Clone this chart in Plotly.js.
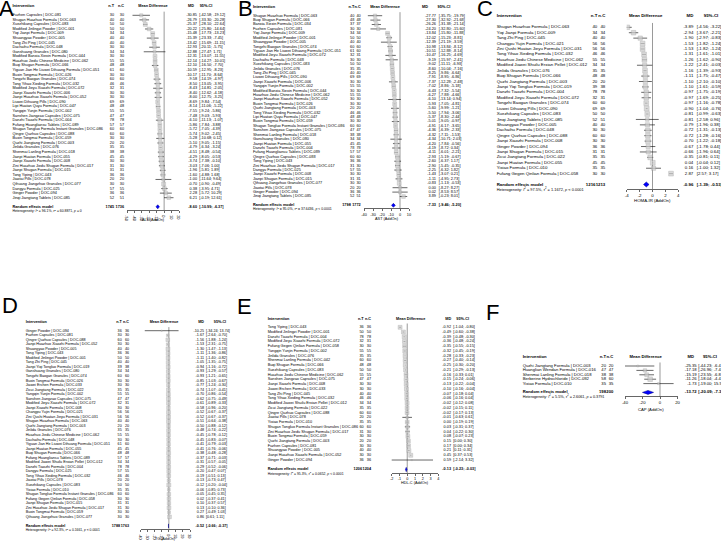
<!DOCTYPE html>
<html><head><meta charset="utf-8">
<script src="https://cdn.plot.ly/plotly-3.0.1.min.js"></script>
<style>html,body{margin:0;padding:0;background:#fff}#chart{width:721px;height:542px}</style>
</head><body><div id="chart"></div>
<script>
// ---------------- Panel A : ALT ----------------
const A_names = ['Fuzhen Capsules | DOC-081','Shugan Huazhuo Formula | DOC-063','Xuezhikang Capsules | DOC-083','Modified Jinlingzi Powder | DOC-001','Yiqi Jianpi Formula | DOC-009','Shuangyao Powder | DOC-005','Tang Zhi Ping | DOC-045','Dachaihu Formula | DOC-048','Ganshuang Granules | DOC-080','Modified Banxia Xiexin Formula | DOC-044','Huazhuo Jiedu Chinese Medicine | DOC-062','Buqi Shugan Formula | DOC-066','Yiguan Jian He Liuwei Dihuang Formula | DOC-051','Buxin Tongmai Formula | DOC-026','Tongzhi Baogan Granules | DOC-074','Tong Yihao Xieding Formula | DOC-032','Modified Jieyu Xiaozhi Formula | DOC-072','Jianpi Xiaozhi Formula | DOC-006','Jianpi Huazhuo Xiaozhi Formula | DOC-052','Liuwei Dihuang Pills | DOC-090','Lipi Huatan Quyu Formula | DOC-047','Yangqin Yunjin Formula | DOC-002','Sanshen Jiangzao Capsules | DOC-075','Danzhi Tiaozhi Formula | DOC-004','Fufang Huangliansu Tablets | DOC-089','Shugan Tongluo Formula Instant Granules | DOC-086','Qingre Quzhuo Capsules | DOC-088','Buxin Tongmai Formula | DOC-059','Quzhi Jiangtang Formula | DOC-003','Jinlida Granules | DOC-076','Shenmai Lanling Formula | DOC-018','Jianpi Huatan Formula | DOC-055','Jianpi Xiaozhi Formula | DOC-008','Zini Huazhuo Jiedu Shugan Formula | DOC-017','Jianpi Shugan Formula | DOC-015','Tong Yiping | DOC-043','Jiaotai Pills | DOC-078','Qihuang Jiangzhuo Granules | DOC-077','Dangyu Formula | DOC-025','Ginger Powder | DOC-094','Jinqi Jiangtang Tablets | DOC-085'];
const A_nT = [30,40,50,50,34,40,40,30,34,30,55,48,61,30,60,46,32,30,30,69,48,55,47,78,57,60,60,30,20,35,38,45,30,31,31,36,20,30,57,36,52];
const A_nC = [30,40,50,50,34,40,40,30,34,30,55,48,60,30,60,46,31,30,30,69,48,55,47,78,57,60,60,30,20,35,38,45,30,30,31,36,20,30,55,36,51];
const A_md = [-30.85,-26.79,-25.37,-20.22,-15.48,-15.39,-13.42,-12.93,-12.88,-12.31,-12.14,-12.10,-10.59,-10.17,-9.58,-8.50,-8.43,-8.40,-8.00,-8.69,-8.14,-7.55,-7.48,-6.10,-5.86,-5.72,-5.74,-5.28,-5.10,-4.79,-4.51,-4.29,-3.74,-3.03,-1.96,-1.60,-1.00,-0.70,0.38,2.28,6.21];
const A_lo = [-42.58,-33.30,-28.10,-25.80,-17.73,-23.33,-15.69,-20.11,-27.47,-13.07,-14.27,-16.50,-12.95,-11.70,-14.19,-13.05,-14.81,-12.62,-12.75,-9.84,-11.06,-9.24,-9.03,-11.13,-7.84,-7.05,-9.02,-10.68,-9.05,-6.34,-8.48,-8.05,-7.38,-7.06,-5.81,-4.88,-11.64,-0.90,-3.95,-5.72,-0.19];
const A_hi = [-19.12,-20.28,-22.64,-14.64,-13.23,-7.45,-11.15,-5.75,1.71,-11.55,-10.01,-7.70,-8.23,-8.64,-4.97,-3.95,-2.05,-4.18,-3.25,-7.54,-5.22,-5.86,-5.93,-1.07,-3.88,-4.39,-2.45,0.12,-1.15,-3.24,-0.54,-0.53,-0.10,1.00,1.89,1.68,9.64,-0.49,4.71,10.29,12.61];
const A_total = [1745,1736];
const A_pooled = [-8.60,-10.99,-6.37];
const A_het = ['96.1%','60.8871','= 0'];
const A_ticks = [-50,-40,-30,-20,-10,0,10,20];
const A_label = 'ALT (AddOn)';

// ---------------- Panel B : AST ----------------
const B_names = ['Shugan Huazhuo Formula | DOC-063','Buqi Shugan Formula | DOC-066','Banxia Xiexin Formula | DOC-034','Fuzhen Capsules | DOC-081','Yiqi Jianpi Formula | DOC-009','Modified Jinlingzi Powder | DOC-001','Shuangyao Powder | DOC-005','Tongzhi Baogan Granules | DOC-074','Yiguan Jian He Liuwei Dihuang Formula | DOC-051','Modified Jieyu Xiaozhi Formula | DOC-072','Dachaihu Formula | DOC-048','Xuezhikang Capsules | DOC-083','Jinlida Granules | DOC-076','Tang Zhi Ping | DOC-045','Liuwei Dihuang Pills | DOC-090','Jianpi Xiaozhi Formula | DOC-006','Yangqin Yunjin Formula | DOC-002','Modified Banxia Xiexin Formula | DOC-044','Huazhuo Jiedu Chinese Medicine | DOC-062','Jianpi Huazhuo Xiaozhi Formula | DOC-052','Buxin Tongmai Formula | DOC-026','Quzhi Jiangtang Formula | DOC-003','Tong Yihao Xieding Formula | DOC-032','Lipi Huatan Quyu Formula | DOC-047','Buxin Tongmai Formula | DOC-059','Shugan Tongluo Formula Instant Granules | DOC-086','Sanshen Jiangzao Capsules | DOC-075','Shenmai Lanling Formula | DOC-018','Ganshuang Granules | DOC-080','Jianpi Huatan Formula | DOC-055','Danzhi Tiaozhi Formula | DOC-004','Fufang Huangliansu Tablets | DOC-089','Qingre Quzhuo Capsules | DOC-088','Tong Yiping | DOC-043','Zini Huazhuo Jiedu Shugan Formula | DOC-017','Dangyu Formula | DOC-025','Jianpi Xiaozhi Formula | DOC-008','Jianpi Shugan Formula | DOC-015','Qihuang Jiangzhuo Granules | DOC-077','Jiaotai Pills | DOC-078','Ginger Powder | DOC-094','Jinqi Jiangtang Tablets | DOC-085'];
const B_nT = [40,48,37,30,34,50,40,60,61,32,30,50,35,40,69,30,55,30,55,30,30,20,46,48,30,60,47,38,34,45,78,57,60,36,31,57,30,31,30,20,36,52];
const B_nC = [40,48,37,30,34,50,40,60,60,31,30,50,35,40,69,30,55,30,55,30,30,20,46,48,30,60,47,38,34,45,78,57,60,36,30,55,30,31,30,20,36,51];
const B_md = [-27.77,-27.30,-26.26,-24.20,-13.84,-12.02,-12.39,-10.98,-10.51,-10.47,-9.19,-9.02,-8.60,-8.25,-7.91,-7.37,-7.02,-6.43,-6.27,-6.10,-5.93,-5.60,-5.50,-5.37,-5.01,-4.91,-4.36,-4.32,-4.34,-4.20,-4.19,-4.11,-2.93,-2.60,-2.90,-2.25,-1.43,-1.11,-0.83,0.00,0.02,3.89];
const B_lo = [-35.75,-32.92,-31.38,-32.80,-15.80,-15.23,-21.19,-13.84,-12.88,-16.25,-15.97,-11.11,-10.04,-9.86,-8.95,-12.28,-8.86,-7.32,-7.88,-13.14,-7.05,-9.99,-7.94,-8.30,-9.05,-6.17,-6.39,-7.11,-10.71,-7.84,-8.72,-6.01,-5.19,-6.37,-5.45,-6.32,-3.07,-4.95,-1.13,-8.27,-8.53,-0.23];
const B_hi = [-19.79,-21.68,-21.14,-15.60,-11.88,-8.81,-3.59,-8.12,-8.14,-4.69,-2.41,-6.93,-7.16,-6.64,-6.86,-2.48,-5.18,-5.54,-4.66,0.94,-4.81,-1.21,-3.06,-2.44,-0.97,-3.65,-2.33,-1.53,2.03,-0.56,0.34,-2.21,-0.67,1.17,-0.35,1.82,0.21,2.73,-0.53,8.27,8.57,8.01];
const B_total = [1798,1772];
const B_pooled = [-7.33,-9.46,-5.20];
const B_het = ['95.0%','37.6436','< 0.0001'];
const B_ticks = [-40,-30,-20,-10,0,10];
const B_label = 'AST (AddOn)';

// ---------------- Panel C : HOMA-IR ----------------
const C_names = ['Shugan Huazhuo Formula | DOC-063','Yiqi Jianpi Formula | DOC-009','Tang Zhi Ping | DOC-045','Changpu Yujin Formula | DOC-021','Zini Qushi Huatan Jieyu Formula | DOC-031','Tong Yihao Xieding Formula | DOC-032','Huazhuo Jiedu Chinese Medicine | DOC-062','Modified Jiawei Shuilu Erxian Pellet | DOC-012','Jinlida Granules | DOC-076','Buqi Shugan Formula | DOC-066','Quzhi Jiangtang Formula | DOC-003','Jianpi Yiqi Tongluo Formula | DOC-019','Danzhi Tiaozhi Formula | DOC-004','Modified Jieyu Xiaozhi Formula | DOC-072','Tongzhi Baogan Granules | DOC-074','Liuwei Dihuang Pills | DOC-090','Xuezhikang Capsules | DOC-083','Jinqi Jiangtang Tablets | DOC-085','Shuangyao Powder | DOC-005','Dachaihu Formula | DOC-048','Qingre Quzhuo Capsules | DOC-088','Jianpi Xiaozhi Formula | DOC-008','Ginger Powder | DOC-094','Jianpi Shugan Formula | DOC-015','Zicui Jiangtang Formula | DOC-022','Jianpi Huatan Formula | DOC-055','Yixiao Formula | DOC-010','Fufang Gegen Qinlian Formula | DOC-058'];
const C_nT = [40,34,40,56,56,46,55,34,35,48,20,39,78,32,60,69,50,52,40,30,60,30,36,31,35,45,35,30];
const C_nC = [40,34,40,56,56,46,55,34,35,48,20,38,78,31,60,69,50,51,40,30,60,30,36,31,35,45,35,30];
const C_md = [-3.89,-2.94,-1.90,-1.53,-1.53,-1.31,-1.26,-1.22,-1.16,-1.11,-1.10,-1.10,-0.97,-0.97,-0.97,-0.90,-0.81,-0.81,-0.79,-0.72,-0.72,-0.70,-0.67,-0.66,-0.35,0.04,0.16,2.87];
const C_lo = [-4.56,-3.67,-2.97,-1.82,-1.82,-1.61,-1.62,-2.41,-1.39,-1.75,-2.10,-1.61,-1.75,-1.69,-1.16,-1.04,-0.99,-2.58,-1.96,-1.31,-1.28,-1.22,-1.78,-1.96,-0.81,-0.04,-1.00,2.57];
const C_hi = [-3.22,-2.21,-0.83,-1.24,-1.24,-1.01,-0.90,-0.03,-0.93,-0.47,-0.10,-0.59,-0.19,-0.25,-0.78,-0.76,-0.63,0.96,0.38,-0.13,-0.16,-0.18,0.44,0.64,0.11,0.12,1.32,3.17];
const C_total = [1216,1213];
const C_pooled = [-0.96,-1.39,-0.53];
const C_het = ['97.5%','1.1672','< 0.0001'];
const C_ticks = [-4,-2,0,2,4];
const C_label = 'HOMA-IR (AddOn)';

// ---------------- Panel D : TG ----------------
const D_names = ['Ginger Powder | DOC-094','Fuzhen Capsules | DOC-081','Qingre Quzhuo Capsules | DOC-088','Jianpi Huazhuo Xiaozhi Formula | DOC-052','Shuangyao Powder | DOC-005','Tong Yiping | DOC-043','Modified Jinlingzi Powder | DOC-001','Tang Zhi Ping | DOC-045','Jianpi Yiqi Tongluo Formula | DOC-019','Ganshuang Granules | DOC-080','Tongzhi Baogan Granules | DOC-074','Buxin Tongmai Formula | DOC-026','Jiawei Erchen Formula | DOC-033','Zicui Jiangtang Formula | DOC-022','Yangqin Yunjin Formula | DOC-002','Sanshen Jiangzao Capsules | DOC-075','Modified Jieyu Xiaozhi Formula | DOC-072','Jianpi Xiaozhi Formula | DOC-008','Changpu Yujin Formula | DOC-021','Zini Qushi Huatan Jieyu Formula | DOC-031','Shugan Huazhuo Formula | DOC-063','Quzhi Jiangtang Formula | DOC-003','Jinlida Granules | DOC-076','Huazhuo Jiedu Chinese Medicine | DOC-062','Dachaihu Formula | DOC-048','Yiguan Jian He Liuwei Dihuang Formula | DOC-051','Jianpi Huatan Formula | DOC-055','Buqi Shugan Formula | DOC-066','Fufang Huangliansu Tablets | DOC-089','Modified Jiawei Shuilu Erxian Pellet | DOC-012','Danzhi Tiaozhi Formula | DOC-004','Dangyu Formula | DOC-025','Tong Yihao Xieding Formula | DOC-032','Jiaotai Pills | DOC-078','Xuezhikang Capsules | DOC-083','Yixiao Formula | DOC-010','Shugan Tongluo Formula Instant Granules | DOC-086','Fufang Gegen Qinlian Formula | DOC-058','Jianpi Shugan Formula | DOC-015','Zini Huazhuo Jiedu Shugan Formula | DOC-017','Buxin Tongmai Formula | DOC-059','Qihuang Jiangzhuo Granules | DOC-077'];
const D_nT = [36,30,60,30,40,36,50,40,39,34,60,30,30,35,55,47,32,30,56,56,40,20,35,55,30,61,45,48,57,34,78,57,46,20,50,35,60,30,31,31,30,30];
const D_nC = [36,30,60,30,40,36,50,40,38,34,60,30,30,35,55,47,31,30,56,56,40,20,35,55,30,60,45,48,57,34,78,55,46,20,50,35,60,30,31,30,30,30];
const D_md = [-10.25,-1.67,-1.56,-1.53,-1.30,-1.11,-1.11,-1.05,-0.94,-0.93,-0.93,-0.85,-0.77,-0.74,-0.70,-0.62,-0.61,-0.58,-0.52,-0.52,-0.51,-0.50,-0.48,-0.45,-0.45,-0.41,-0.41,-0.38,-0.37,-0.31,-0.29,-0.20,-0.19,-0.13,-0.12,-0.06,-0.05,0.02,0.10,0.13,0.27,0.86];
const D_lo = [-34.24,-2.64,-1.88,-2.31,-1.47,-1.36,-1.40,-1.35,-1.16,-1.29,-1.21,-1.03,-1.24,-1.07,-0.86,-0.75,-0.89,-0.96,-0.67,-0.67,-0.64,-0.88,-0.74,-0.78,-0.83,-0.79,-0.76,-0.48,-0.71,-0.57,-0.52,-0.47,-0.51,-0.73,-0.20,-0.85,-0.45,-0.37,-0.37,-0.10,-0.49,0.61];
const D_hi = [13.74,-0.70,-1.24,-0.75,-1.13,-0.86,-0.82,-0.75,-0.72,-0.57,-0.65,-0.67,-0.30,-0.41,-0.54,-0.49,-0.33,-0.20,-0.37,-0.37,-0.38,-0.12,-0.22,-0.12,-0.07,-0.03,-0.06,-0.28,-0.03,-0.05,-0.06,0.07,0.13,0.47,-0.04,0.73,0.35,0.41,0.57,0.36,1.03,1.11];
const D_total = [1788,1763];
const D_pooled = [-0.52,-0.66,-0.37];
const D_het = ['92.3%','0.1661','< 0.0001'];
const D_ticks = [-40,-30,-20,-10,0,10,20,30];
const D_label = 'TG (AddOn)';

// ---------------- Panel E : HDL-C ----------------
const E_names = ['Tong Yiping | DOC-043','Modified Jinlingzi Powder | DOC-001','Danzhi Tiaozhi Formula | DOC-004','Modified Jieyu Xiaozhi Formula | DOC-072','Fufang Gegen Qinlian Formula | DOC-058','Yangqin Yunjin Formula | DOC-002','Jinlida Granules | DOC-076','Shenmai Lanling Formula | DOC-042','Buqi Shugan Formula | DOC-066','Xuezhikang Capsules | DOC-083','Huazhuo Jiedu Chinese Medicine | DOC-062','Sanshen Jiangzao Capsules | DOC-075','Jianpi Xiaozhi Formula | DOC-008','Jiawei Erchen Formula | DOC-033','Tang Zhi Ping | DOC-045','Tong Yihao Xieding Formula | DOC-032','Modified Jiawei Shuilu Erxian Pellet | DOC-012','Zicui Jiangtang Formula | DOC-022','Qingre Quzhuo Capsules | DOC-088','Jiaotai Pills | DOC-078','Yixiao Formula | DOC-010','Shugan Tongluo Formula Instant Granules | DOC-086','Zini Huazhuo Jiedu Shugan Formula | DOC-017','Buxin Tongmai Formula | DOC-059','Quzhi Jiangtang Formula | DOC-003','Fuzhen Capsules | DOC-081','Shuangyao Powder | DOC-005','Jianpi Huazhuo Xiaozhi Formula | DOC-052','Ginger Powder | DOC-094'];
const E_nT = [36,50,78,32,30,55,35,60,48,50,55,47,30,30,40,46,34,35,60,20,35,60,31,30,20,30,40,30,36];
const E_nC = [36,50,78,31,30,55,35,60,48,50,55,47,30,30,40,46,34,35,60,20,35,60,30,30,20,30,40,30,36];
const E_md = [-0.92,-0.49,-0.39,-0.36,-0.35,-0.32,-0.28,-0.27,-0.25,-0.21,-0.16,-0.15,-0.13,-0.10,-0.07,-0.06,-0.02,-0.02,-0.02,-0.01,0.00,0.03,0.04,0.08,0.15,0.17,0.21,0.45,0.59];
const E_lo = [-1.04,-0.60,-0.48,-0.48,-0.55,-0.45,-0.33,-0.40,-0.30,-0.29,-0.33,-0.24,-0.22,-0.16,-0.18,-0.16,-0.12,-0.15,-0.17,-0.63,-0.19,-0.31,-0.22,-0.07,0.00,0.00,0.11,0.37,-2.14];
const E_hi = [-0.80,-0.38,-0.30,-0.24,-0.15,-0.19,-0.23,-0.14,-0.20,-0.13,0.01,-0.06,-0.04,-0.04,0.04,0.04,0.08,0.11,0.13,0.61,0.19,0.37,0.30,0.23,0.30,0.34,0.31,0.53,3.32];
const E_total = [1206,1204];
const E_pooled = [-0.13,-0.23,-0.03];
const E_het = ['95.3%','0.0652','< 0.0001'];
const E_ticks = [-2,-1,0,1,2,3,4];
const E_label = 'HDL-C (AddOn)';

// ---------------- Panel F : CAP ----------------
const F_names = ['Quzhi Jiangtang Formula | DOC-003','Huanglian Wendan Formula | DOC-016','Shenmai Lanling Formula | DOC-018','Berberine Hydrochloride | DOC-092','Yixiao Formula | DOC-010'];
const F_nT = [20,47,38,58,35];
const F_nC = [20,47,38,60,35];
const F_md = [-25.35,-17.18,-15.19,-11.26,-1.73];
const F_lo = [-44.23,-26.96,-23.55,-18.04,-19.00];
const F_hi = [-6.47,-7.40,-6.83,-4.48,15.54];
const F_total = [198,200];
const F_pooled = [-13.72,-20.09,-7.35];
const F_het = ['5.5%','2.6061','= 0.3791'];
const F_ticks = [-40,-20,0,20];
const F_label = 'CAP (AddOn)';

// ---------------- layout geometry (pixels) ----------------
const W = 721, H = 542;
const FONT = 'Liberation Sans, Arial, Helvetica, sans-serif';
const panels = [
 {id:'A', names:A_names,nT:A_nT,nC:A_nC,md:A_md,lo:A_lo,hi:A_hi,tot:A_total,pooled:A_pooled,het:A_het,ticks:A_ticks,label:A_label,
  g:{letter:[6,9],row0:15.3,dy:4.56,header:6.3,axisY:210,labY:220,fs:3.8,xName:12.5,xNT:114,xNC:124,xTotT:114,xMD:197,xMDh:191,xCI:199.3,xCIh:206,xMean:153,plot:[127,179],range:[-50,20],sq:3.9}},
 {id:'B', names:B_names,nT:B_nT,nC:B_nC,md:B_md,lo:B_lo,hi:B_hi,tot:B_total,pooled:B_pooled,het:B_het,ticks:B_ticks,label:B_label,
  g:{letter:[245,9],row0:15.7,dy:4.41,header:7,axisY:208.3,labY:218.7,fs:3.85,xName:253,xNT:354.3,xNC:360.7,xTotT:350.8,xMD:436,xMDh:425,xCI:438.7,xCIh:444,xMean:385,plot:[364,409],range:[-40,10],sq:3.9}},
 {id:'C', names:C_names,nT:C_nT,nC:C_nC,md:C_md,lo:C_lo,hi:C_hi,tot:C_total,pooled:C_pooled,het:C_het,ticks:C_ticks,label:C_label,
  g:{letter:[485,9],row0:27.3,dy:5.42,header:16,axisY:189,labY:201,fs:4.35,xName:496.7,xNT:597.3,xNC:605.3,xTotT:595.5,xMD:693.3,xMDh:690,xCI:696.7,xCIh:711,xMean:645.7,plot:[626.7,678.3],range:[-4,4],sq:4.8}},
 {id:'D', names:D_names,nT:D_nT,nC:D_nC,md:D_md,lo:D_lo,hi:D_hi,tot:D_total,pooled:D_pooled,het:D_het,ticks:D_ticks,label:D_label,
  g:{letter:[10,305],row0:330.7,dy:4.54,header:322.3,axisY:529,labY:539.3,fs:3.7,xName:25.7,xNT:121.7,xNC:129,xTotT:120,xMD:204,xMDh:201,xCI:206,xCIh:220,xMean:164,plot:[140.7,190],range:[-40,30],sq:3.9}},
 {id:'E', names:E_names,nT:E_nT,nC:E_nC,md:E_md,lo:E_lo,hi:E_hi,tot:E_total,pooled:E_pooled,het:E_het,ticks:E_ticks,label:E_label,
  g:{letter:[244,306],row0:327.3,dy:4.74,header:319.3,axisY:473,labY:482.7,fs:3.8,xName:267.7,xNT:363.7,xNC:371,xTotT:362,xMD:451,xMDh:448.3,xCI:453.3,xCIh:462.7,xMean:410.7,plot:[391.7,438.3],range:[-2,4],sq:4.0}},
 {id:'F', names:F_names,nT:F_nT,nC:F_nC,md:F_md,lo:F_lo,hi:F_hi,tot:F_total,pooled:F_pooled,het:F_het,ticks:F_ticks,label:F_label,
  g:{letter:[492,312],row0:366,dy:4.4,header:356.7,axisY:396.5,labY:409,fs:4.2,xName:522.7,xNT:606,xNC:613.3,xTotT:606,xMD:696.7,xMDh:690.7,xCI:698.3,xCIh:710,xMean:645.7,plot:[625,677.5],range:[-40,20],sq:4.6}}
];

const f2 = v => v.toFixed(2);
const ciStr = (l,h) => '[' + f2(l) + '; ' + f2(h) + ']';

const traces = [];
const layout = {
  width: W, height: H, margin:{l:0,r:0,t:0,b:0}, showlegend:false,
  paper_bgcolor:'#ffffff', plot_bgcolor:'rgba(0,0,0,0)',
  font:{family:FONT, color:'#000'},
  annotations: [],
  xaxis7: {domain:[0,1], range:[0,W], visible:false, fixedrange:true, anchor:'y1'}
};

function textTrace(k, xs, ys, texts, pos, size, bold){
  return {type:'scatter', mode:'text', xaxis:'x7', yaxis:'y'+k, x:xs, y:ys, text:texts,
    textposition:pos, cliponaxis:false, hoverinfo:'skip',
    textfont:{family:FONT, size:size, color:'#000', weight: bold ? 'bold' : 'normal'}};
}

panels.forEach((p, idx) => {
  const k = idx + 1, g = p.g, n = p.names.length;
  const rows = p.names.map((_, i) => i);
  const sumRow = n + 1;
  const hetRow = n + 1.95;
  const hdrRow = (g.header - g.row0) / g.dy;
  const topPx = g.header - 4;
  const botPx = g.axisY + 8;
  const axisRow = (g.axisY - g.row0) / g.dy;
  const rowBottom = (botPx - g.row0) / g.dy;
  const rowTop = (topPx - g.row0) / g.dy;

  layout['yaxis' + k] = {domain:[1 - botPx / H, 1 - topPx / H], range:[rowBottom, rowTop], visible:false, fixedrange:true};
  layout['xaxis' + k] = {domain:[g.plot[0] / W, g.plot[1] / W], range:g.range, anchor:'free', position:1 - g.axisY / H,
    showline:true, linecolor:'#000', linewidth:0.6, ticks:'outside', ticklen:2, tickwidth:0.6, tickcolor:'#000',
    tickmode:'array', tickvals:p.ticks, ticktext:p.ticks.map(String), tickfont:{family:FONT, size:g.fs, color:'#000'},
    showgrid:false, zeroline:false, fixedrange:true};

  const fs = g.fs;
  // headers
  traces.push(textTrace(k, [g.xName], [hdrRow], ['Intervention'], 'middle right', fs, true));
  traces.push(textTrace(k, [g.xNT, g.xNC], [hdrRow, hdrRow], ['n.T', 'n.C'], 'middle left', fs, true));
  traces.push(textTrace(k, [g.xMean, g.xMDh, g.xCIh], [hdrRow, hdrRow, hdrRow],
    ['Mean Difference', 'MD', '95%-CI'], 'middle center', fs, true));
  // study rows
  traces.push(textTrace(k, rows.map(() => g.xName), rows, p.names, 'middle right', fs, false));
  traces.push(textTrace(k, rows.map(() => g.xNT), rows, p.nT.map(String), 'middle left', fs, false));
  traces.push(textTrace(k, rows.map(() => g.xNC), rows, p.nC.map(String), 'middle left', fs, false));
  traces.push(textTrace(k, rows.map(() => g.xMD), rows, p.md.map(f2), 'middle left', fs, false));
  traces.push(textTrace(k, rows.map(() => g.xCI), rows, p.lo.map((l, i) => ciStr(l, p.hi[i])), 'middle right', fs, false));
  // summary row
  traces.push(textTrace(k, [g.xName], [sumRow], ['Random effects model'], 'middle right', fs, true));
  traces.push(textTrace(k, [g.xTotT, g.xNC], [sumRow, sumRow], p.tot.map(String), 'middle left', fs, true));
  traces.push(textTrace(k, [g.xMD], [sumRow], [f2(p.pooled[0])], 'middle left', fs, true));
  traces.push(textTrace(k, [g.xCI], [sumRow], [ciStr(p.pooled[1], p.pooled[2])], 'middle right', fs, true));
  // heterogeneity
  traces.push(textTrace(k, [g.xName], [hetRow],
    ['Heterogeneity: <i>I</i><sup>2</sup> = ' + p.het[0] + ', <i>τ</i><sup>2</sup> = ' + p.het[1] + ', <i>p</i> ' + p.het[2]],
    'middle right', fs * 0.9, false));

  // ---- forest marks ----
  const xa = 'x' + k, ya = 'y' + k;
  traces.push({type:'scatter', mode:'lines', xaxis:xa, yaxis:ya, x:[0, 0], y:[-0.8, axisRow],
    line:{color:'#555', width:0.6}, hoverinfo:'skip'});
  const cx = [], cy = [];
  rows.forEach(i => { cx.push(p.lo[i], p.hi[i], null); cy.push(i, i, null); });
  traces.push({type:'scatter', mode:'lines', xaxis:xa, yaxis:ya, x:cx, y:cy,
    line:{color:'#000', width:0.6}, hoverinfo:'skip'});
  const tau2 = parseFloat(p.het[1]);
  const w = p.lo.map((l, i) => { const se = (p.hi[i] - l) / 3.92; return 1 / (se * se + tau2); });
  const wm = Math.max(...w);
  traces.push({type:'scatter', mode:'markers', xaxis:xa, yaxis:ya, x:p.md, y:rows,
    marker:{symbol:'square', size:w.map(v => Math.max(1.2, g.sq * Math.sqrt(v / wm))), color:'#cdcdcd', line:{color:'#888', width:0.4}},
    hoverinfo:'skip'});
  const dh = 0.45;
  traces.push({type:'scatter', mode:'lines', xaxis:xa, yaxis:ya,
    x:[p.pooled[1], p.pooled[0], p.pooled[2], p.pooled[0], p.pooled[1]],
    y:[sumRow, sumRow - dh, sumRow, sumRow + dh, sumRow],
    fill:'toself', fillcolor:'#0000ff', line:{color:'#00008b', width:0.5}, hoverinfo:'skip'});

  layout.annotations.push({text:p.id, xref:'paper', yref:'paper', x:g.letter[0] / W, y:1 - g.letter[1] / H,
    xanchor:'center', yanchor:'middle', showarrow:false, font:{family:FONT, size:22, color:'#000'}});
  layout.annotations.push({text:p.label, xref:'paper', yref:'paper', x:(g.plot[0] + g.plot[1]) / 2 / W, y:1 - g.labY / H,
    xanchor:'center', yanchor:'middle', showarrow:false, font:{family:FONT, size:g.fs, color:'#000'}});
});

Plotly.newPlot('chart', traces, layout, {staticPlot:true, displayModeBar:false});
</script>
</body></html>
